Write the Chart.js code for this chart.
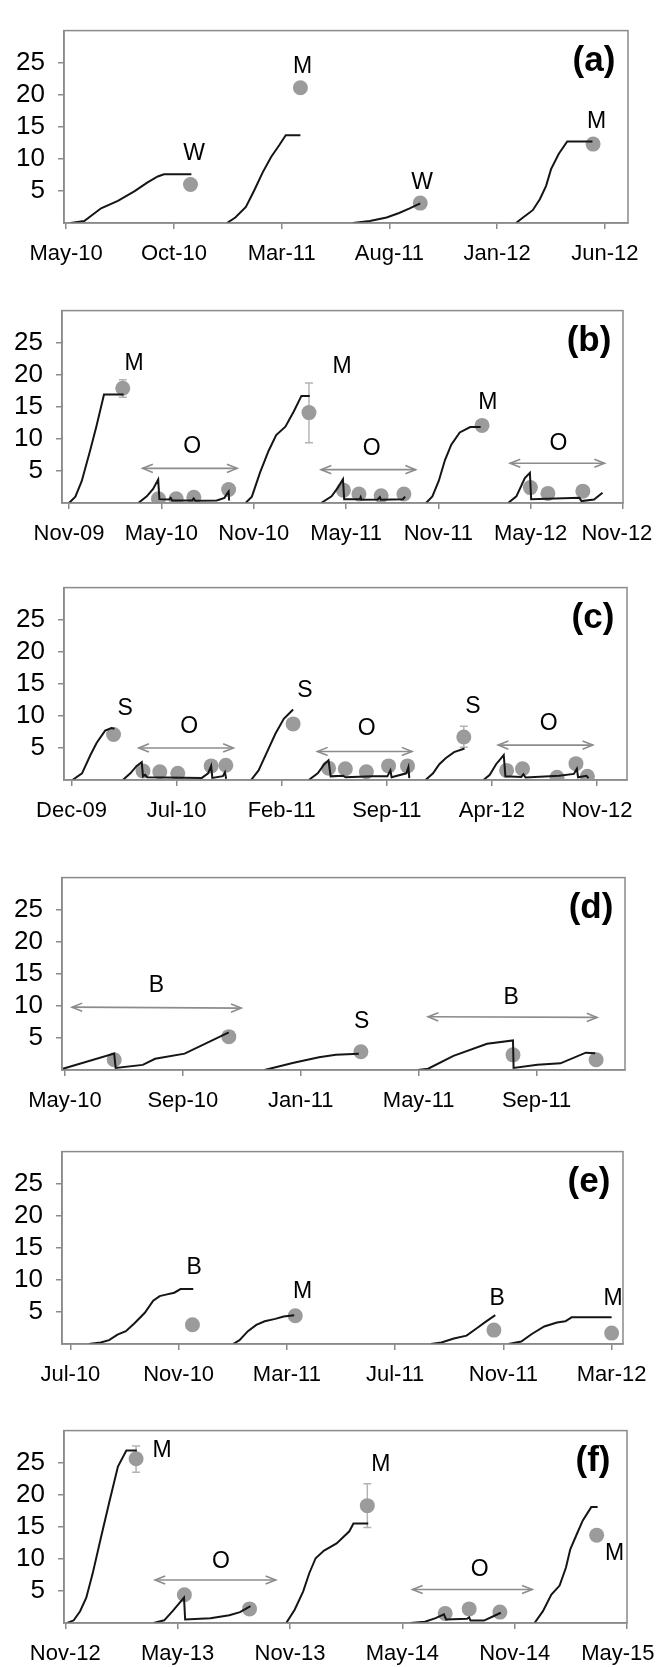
<!DOCTYPE html>
<html><head><meta charset="utf-8">
<script src="https://cdn.jsdelivr.net/npm/chart.js@4.4.1/dist/chart.umd.min.js"></script>
<style>
html,body{margin:0;padding:0;background:#fff;width:657px;height:1667px;overflow:hidden;position:relative;}
canvas{position:absolute;left:0;}
</style></head><body>
<script>
// x values are months counted from Jan-09 (Jan-09 = 0)
// ---------- panel (a)
const A_TICKS = [16,21,26,31,36,41];
const A_TICK_LABELS = ['May-10','Oct-10','Mar-11','Aug-11','Jan-12','Jun-12'];
const A_LINES = [
 [[16.21,0],[16.84,0.3],[17.62,2.3],[18.40,3.45],[19.18,4.96],[19.76,6.3],[20.25,7.25],[20.54,7.6],[21.81,7.6]],
 [[23.46,0],[23.85,0.85],[24.34,2.5],[24.73,5.1],[25.12,7.9],[25.51,10.3],[25.90,12.2],[26.19,13.7],[26.87,13.7]],
 [[29.31,0],[30.09,0.3],[30.87,0.85],[31.45,1.56],[31.94,2.27],[32.43,3.07]],
 [[36.87,0],[37.2,0.85],[37.65,2.0],[37.98,3.7],[38.27,5.8],[38.5,8.4],[38.86,10.8],[39.25,12.7],[40.42,12.7]]
];
const A_POINTS = [[21.77,6.0],[26.87,21.1,20.6,21.6],[32.43,3.1],[40.45,12.3]];
const A_LETTERS = [['W',21.94,10.8],['M',26.97,24.3],['W',32.52,6.3],['M',40.61,15.8]];
const A_ARROWS = [];

// ---------- panel (b)
const B_TICKS = [10,16,22,28,34,40,46];
const B_TICK_LABELS = ['Nov-09','May-10','Nov-10','May-11','Nov-11','May-12','Nov-12'];
const B_LINES = [
 [[10.0,0],[10.41,1.0],[10.82,3.4],[11.36,8.1],[11.77,11.9],[12.27,16.9],[13.55,16.9]],
 [[14.5,0],[15.05,1.04],[15.46,2.2],[15.79,3.65],[15.87,0.6],[16.5,0.55],[16.6,0.8],[16.7,0.4],[18.0,0.4],[18.1,0.7],[18.2,0.35],[19.6,0.4],[20.1,0.8],[20.3,1.6],[20.37,1.8],[20.4,0.4]],
 [[21.47,0],[21.88,1.0],[22.42,4.8],[22.97,8.15],[23.46,10.6],[24.06,11.9],[24.61,14.3],[25.1,16.7],[25.64,16.7]],
 [[26.38,0],[27.06,1.04],[27.47,2.4],[27.8,3.7],[27.88,0.6],[28.9,0.6],[28.95,0.9],[29.0,0.5],[30.06,0.55],[30.2,0.9],[30.26,0.5],[31.7,0.6],[31.84,1.0]],
 [[33.2,0],[33.61,1.04],[34.02,3.4],[34.43,6.7],[34.84,9.1],[35.39,11.0],[36.07,11.85],[36.75,11.85]],
 [[38.53,0],[39.07,1.04],[39.62,3.9],[39.95,4.7],[40.03,0.6],[43.17,0.8],[43.3,0.3],[44.12,0.55],[44.67,1.6]]
];
const B_POINTS = [[13.49,17.9,16.5,19.2],[15.81,0.66],[16.96,0.66],[18.11,0.9],[20.37,2.1],[25.59,14.1,9.4,18.7],[27.83,2.0],[28.84,1.4],[30.28,1.14],[31.76,1.4],[36.84,12.1],[39.98,2.4],[41.12,1.5],[43.39,1.85]];
const B_LETTERS = [['M',14.23,21.7],['O',18.0,8.86],['M',27.75,21.2],['O',29.66,8.4],['M',37.22,15.7],['O',41.8,9.3]];
const B_ARROWS = [[14.78,5.4,20.92,5.4],[26.38,5.2,32.52,5.2],[38.66,6.2,44.8,6.2]];

// ---------- panel (c)
const C_TICKS = [11,18,25,32,39,46];
const C_TICK_LABELS = ['Dec-09','Jul-10','Feb-11','Sep-11','Apr-12','Nov-12'];
const C_LINES = [
 [[11.06,0],[11.7,1.04],[12.26,3.9],[12.68,5.8],[13.24,7.7],[13.66,8.1],[13.86,8.0]],
 [[14.42,0],[14.92,1.04],[15.34,2.2],[15.68,2.8],[15.76,0.57],[15.9,0.8],[16.04,0.43],[19.68,0.33],[20.1,1.04],[20.3,2.2],[20.38,0.33],[21.08,0.6],[21.22,1.2],[21.3,0.2]],
 [[22.96,0],[23.46,1.5],[24.02,4.35],[24.58,7.2],[25.14,9.55],[25.76,11.0]],
 [[26.8,0],[27.4,1.04],[27.84,2.46],[28.12,3.07],[28.26,0.57],[29.1,0.66],[29.24,0.43],[31.06,0.57],[32.04,0.57],[32.24,1.5],[32.32,0.43],[33.3,1.04],[33.44,2.0],[33.5,0.3]],
 [[34.58,0],[35.08,1.04],[35.5,2.46],[35.92,3.4],[36.48,4.35],[37.04,4.8],[37.18,4.9]],
 [[38.44,0],[38.86,0.8],[39.28,2.46],[39.79,3.9],[39.9,0.57],[40.96,0.47],[41.1,0.9],[41.24,0.4],[43.48,0.66],[44.46,0.95],[44.66,1.75],[44.74,0.43],[45.3,0.66],[45.44,0.3]]
];
const C_POINTS = [[13.8,7.1],[15.76,1.42],[16.88,1.28],[18.08,1.04],[20.3,2.2],[21.28,2.3],[25.76,8.75],[28.12,1.85],[29.24,1.75],[30.64,1.28],[32.12,2.2],[33.38,2.2],[37.13,6.7,5.1,8.4],[39.98,1.5],[41.04,1.75],[43.34,0.43],[44.6,2.55],[45.36,0.57]];
const C_LETTERS = [['S',14.58,11.06],['O',18.84,8.37],['S',26.54,13.9],['O',30.66,8.04],['S',37.74,11.44],['O',42.78,8.84]];
const C_ARROWS = [[15.48,5.0,21.78,5.0],[27.38,4.45,33.68,4.45],[39.42,5.44,45.72,5.44]];

// ---------- panel (d)
const D_TICKS = [16,20,24,28,32];
const D_TICK_LABELS = ['May-10','Sep-10','Jan-11','May-11','Sep-11'];
const D_LINES = [
 [[15.93,0.2],[17.67,2.55],[17.72,0.33],[18.64,0.8],[19.06,1.75],[20.06,2.55],[21.56,5.86]],
 [[22.77,0],[23.76,1.13],[24.62,2.0],[25.19,2.36],[25.97,2.55]],
 [[27.97,0],[28.32,0.2],[29.18,2.2],[30.32,4.1],[31.2,4.6],[31.22,0.33],[32.03,0.8],[32.81,1.04],[33.67,2.7],[33.99,2.6]]
];
const D_POINTS = [[17.67,1.6],[21.56,5.2,4.7,6.1],[26.04,2.84],[31.2,2.36],[34.02,1.6]];
const D_LETTERS = [['B',19.1,13.1],['S',26.07,7.57],['B',31.14,11.3]];
const D_ARROWS = [[16.24,9.8,21.98,9.65],[28.32,8.3,34.05,8.2]];

// ---------- panel (e)
const E_TICKS = [18,22,26,30,34,38];
const E_TICK_LABELS = ['Jul-10','Nov-10','Mar-11','Jul-11','Nov-11','Mar-12'];
const E_LINES = [
 [[18.68,0],[19.12,0.24],[19.43,0.6],[19.74,1.47],[20.05,2.0],[20.36,3.2],[20.75,4.87],[21.06,6.76],[21.3,7.47],[21.53,7.7],[21.84,8.0],[22.07,8.56],[22.54,8.56]],
 [[24.01,0],[24.25,0.6],[24.56,2.0],[24.87,2.98],[25.18,3.55],[25.57,3.92],[25.88,4.3],[26.27,4.5]],
 [[31.32,0],[31.71,0.24],[32.17,0.85],[32.64,1.3],[33.03,2.5],[33.34,3.45],[33.7,4.5]],
 [[34.19,0],[34.66,0.38],[35.05,1.56],[35.51,2.74],[35.98,3.36],[36.29,3.55],[36.52,4.16],[38.0,4.16]]
];
const E_POINTS = [[22.51,3.0],[26.31,4.4],[33.65,2.17],[38.0,1.7]];
const E_LETTERS = [['B',22.57,11.96],['M',26.58,8.18],['B',33.77,7.0],['M',38.05,7.0]];
const E_ARROWS = [];

// ---------- panel (f)
const F_TICKS = [46,52,58,64,70,76];
const F_TICK_LABELS = ['Nov-12','May-13','Nov-13','May-14','Nov-14','May-15'];
const F_LINES = [
 [[46.11,0],[46.45,0.42],[46.79,1.84],[47.12,3.95],[47.46,7.7],[47.91,13.4],[48.36,19.0],[48.81,24.4],[49.26,26.9],[49.82,26.9]],
 [[50.72,0],[51.28,0.42],[51.73,1.84],[52.34,3.95],[52.4,0.56],[53.75,0.75],[54.76,1.22],[55.33,1.7],[55.89,2.64]],
 [[57.8,0],[58.25,2.07],[58.7,4.9],[59.03,7.76],[59.37,10.1],[59.82,11.3],[60.49,12.4],[61.17,14.3],[61.39,15.5],[62.18,15.5]],
 [[64.43,0],[65.21,0.19],[65.78,0.75],[66.22,1.36],[66.34,0.56],[67.46,0.66],[67.57,0.9],[67.64,0.38],[68.36,0.38],[68.92,1.13],[69.26,1.6]],
 [[71.06,0],[71.51,1.84],[71.96,4.42],[72.4,5.84],[72.74,8.66],[72.97,11.5],[73.31,13.8],[73.64,16.0],[74.09,18.07],[74.43,18.07]]
];
const F_POINTS = [[49.78,25.6,23.5,27.6],[52.36,4.4],[55.84,2.2],[62.13,18.3,14.9,21.7],[66.29,1.5],[67.57,2.2],[69.21,1.7],[74.38,13.7]];
const F_LETTERS = [['M',51.17,26.8],['O',54.31,9.6],['M',62.85,24.66],['O',68.13,8.33],['M',75.33,10.78]];
const F_ARROWS = [[50.79,6.7,57.24,6.7],[64.54,5.22,70.94,5.22]];

const Y_TICKS = [5,10,15,20,25];
const Y_MIN = 0, Y_MAX = 30;

// layout (pixels) per panel: axis line y, plot left, plot right, x range, last label inset (chars)
const PANELS = [
 {id:'(a)', ticks:A_TICKS, labels:A_TICK_LABELS, lines:A_LINES, points:A_POINTS, letters:A_LETTERS, arrows:A_ARROWS, min:15.9, max:42.07, axisY:223, left:64, right:628, inset:0},
 {id:'(b)', ticks:B_TICKS, labels:B_TICK_LABELS, lines:B_LINES, points:B_POINTS, letters:B_LETTERS, arrows:B_ARROWS, min:9.54, max:46, axisY:503, left:62, right:623, inset:2},
 {id:'(c)', ticks:C_TICKS, labels:C_TICK_LABELS, lines:C_LINES, points:C_POINTS, letters:C_LETTERS, arrows:C_ARROWS, min:10.5, max:48.0, axisY:780, left:64, right:627, inset:0},
 {id:'(d)', ticks:D_TICKS, labels:D_TICK_LABELS, lines:D_LINES, points:D_POINTS, letters:D_LETTERS, arrows:D_ARROWS, min:15.9, max:35, axisY:1070, left:62, right:625, inset:0},
 {id:'(e)', ticks:E_TICKS, labels:E_TICK_LABELS, lines:E_LINES, points:E_POINTS, letters:E_LETTERS, arrows:E_ARROWS, min:17.69, max:38.42, axisY:1344, left:62, right:623, inset:0},
 {id:'(f)', ticks:F_TICKS, labels:F_TICK_LABELS, lines:F_LINES, points:F_POINTS, letters:F_LETTERS, arrows:F_ARROWS, min:45.93, max:76, axisY:1623, left:64, right:627, inset:3}
];

const PLOT_H = 211, PAD_TOP = 10, XAX_H = 45, CANVAS_W = 720;
const FONT = '"Liberation Sans", Arial, Helvetica, sans-serif';
const GRAY = '#8a8a8a';
const cfgByCanvas = {};

const overlay = {
  id: 'overlay',
  beforeDatasetsDraw(chart) {
    const p = cfgByCanvas[chart.canvas.id];
    const ctx = chart.ctx, xs = chart.scales.x, ys = chart.scales.y;
    ctx.save();
    ctx.strokeStyle = '#b4b4b4'; ctx.lineWidth = 1.5;
    p.points.forEach(pt => {
      if (pt.length < 4) return;
      const x = xs.getPixelForValue(pt[0]);
      const yl = ys.getPixelForValue(pt[2]), yh = ys.getPixelForValue(pt[3]);
      ctx.beginPath();
      ctx.moveTo(x, yl); ctx.lineTo(x, yh);
      ctx.moveTo(x - 4, yl); ctx.lineTo(x + 4, yl);
      ctx.moveTo(x - 4, yh); ctx.lineTo(x + 4, yh);
      ctx.stroke();
    });
    ctx.restore();
  },
  afterDatasetsDraw(chart) {
    const p = cfgByCanvas[chart.canvas.id];
    const ctx = chart.ctx, xs = chart.scales.x, ys = chart.scales.y, ca = chart.chartArea;
    ctx.save();
    // arrows
    ctx.strokeStyle = '#8c8c8c'; ctx.lineWidth = 1.6;
    p.arrows.forEach(a => {
      const x1 = xs.getPixelForValue(a[0]), y1 = ys.getPixelForValue(a[1]);
      const x2 = xs.getPixelForValue(a[2]), y2 = ys.getPixelForValue(a[3]);
      ctx.beginPath(); ctx.moveTo(x1, y1); ctx.lineTo(x2, y2); ctx.stroke();
      const ang = Math.atan2(y2 - y1, x2 - x1), L = 11, W = 0.38;
      [[x2, y2, ang + Math.PI], [x1, y1, ang]].forEach(([tx, ty, back]) => {
        ctx.beginPath();
        ctx.moveTo(tx + L * Math.cos(back + W), ty + L * Math.sin(back + W));
        ctx.lineTo(tx, ty);
        ctx.lineTo(tx + L * Math.cos(back - W), ty + L * Math.sin(back - W));
        ctx.stroke();
      });
    });
    // letters
    ctx.fillStyle = '#000';
    ctx.font = '23px ' + FONT;
    ctx.textAlign = 'center'; ctx.textBaseline = 'middle';
    p.letters.forEach(l => {
      ctx.fillText(l[0], xs.getPixelForValue(l[1]), ys.getPixelForValue(l[2]));
    });
    // panel id
    ctx.font = 'bold 35px ' + FONT;
    ctx.fillText(p.id, ca.right - 34, ys.getPixelForValue(25.2));
    // box
    ctx.strokeStyle = GRAY; ctx.lineWidth = 1.5;
    ctx.strokeRect(ca.left, ca.top, ca.right - ca.left, ca.bottom - ca.top);
    ctx.restore();
  }
};

PANELS.forEach((p, i) => {
  const cv = document.createElement('canvas');
  cv.id = 'panel' + i;
  const h = PAD_TOP + PLOT_H + XAX_H;
  cv.width = CANVAS_W; cv.height = h;
  cv.style.width = CANVAS_W + 'px'; cv.style.height = h + 'px';
  cv.style.top = (p.axisY - PLOT_H - PAD_TOP) + 'px';
  document.body.appendChild(cv);
  cfgByCanvas[cv.id] = p;

  const datasets = [];
  datasets.push({
    type: 'scatter',
    data: p.points.map(q => ({x: q[0], y: q[1]})),
    pointRadius: 7.5, pointHoverRadius: 7.5,
    backgroundColor: '#9b9b9b', borderWidth: 0, showLine: false, order: 2
  });
  p.lines.forEach(l => datasets.push({
    type: 'scatter',
    data: l.map(q => ({x: q[0], y: q[1]})),
    showLine: true, borderColor: '#151515', borderWidth: 2,
    pointRadius: 0, tension: 0, fill: false, order: 1
  }));

  new Chart(cv, {
    type: 'scatter',
    data: {datasets},
    options: {
      responsive: false, animation: false, devicePixelRatio: 1,
      layout: {padding: {top: PAD_TOP, left: 0, right: CANVAS_W - p.right, bottom: 0}},
      plugins: {legend: {display: false}, tooltip: {enabled: false}},
      scales: {
        x: {
          type: 'linear', min: p.min, max: p.max,
          afterBuildTicks: s => { s.ticks = p.ticks.map(v => ({value: v})); },
          afterFit: s => { s.height = XAX_H; },
          ticks: {
            autoSkip: false, maxRotation: 0, padding: 12, color: '#000',
            font: {family: FONT, size: 22},
            callback: v => {
              const k = p.ticks.indexOf(v);
              if (k < 0) return '';
              return (k === p.ticks.length - 1 && p.inset) ? p.labels[k] + '\u00a0'.repeat(p.inset) : p.labels[k];
            }
          },
          grid: {display: true, drawOnChartArea: false, drawTicks: true, tickLength: 6, color: GRAY, lineWidth: 1.5},
          border: {display: true, color: GRAY, width: 1.5}
        },
        y: {
          type: 'linear', min: Y_MIN, max: Y_MAX,
          afterBuildTicks: s => { s.ticks = Y_TICKS.map(v => ({value: v})); },
          afterFit: s => { s.width = p.left; },
          ticks: {padding: 13, color: '#000', font: {family: FONT, size: 26}},
          grid: {display: true, drawOnChartArea: false, drawTicks: true, tickLength: 6, color: GRAY, lineWidth: 1.5},
          border: {display: true, color: GRAY, width: 1.5}
        }
      }
    },
    plugins: [overlay]
  });
});
</script>
</body></html>
